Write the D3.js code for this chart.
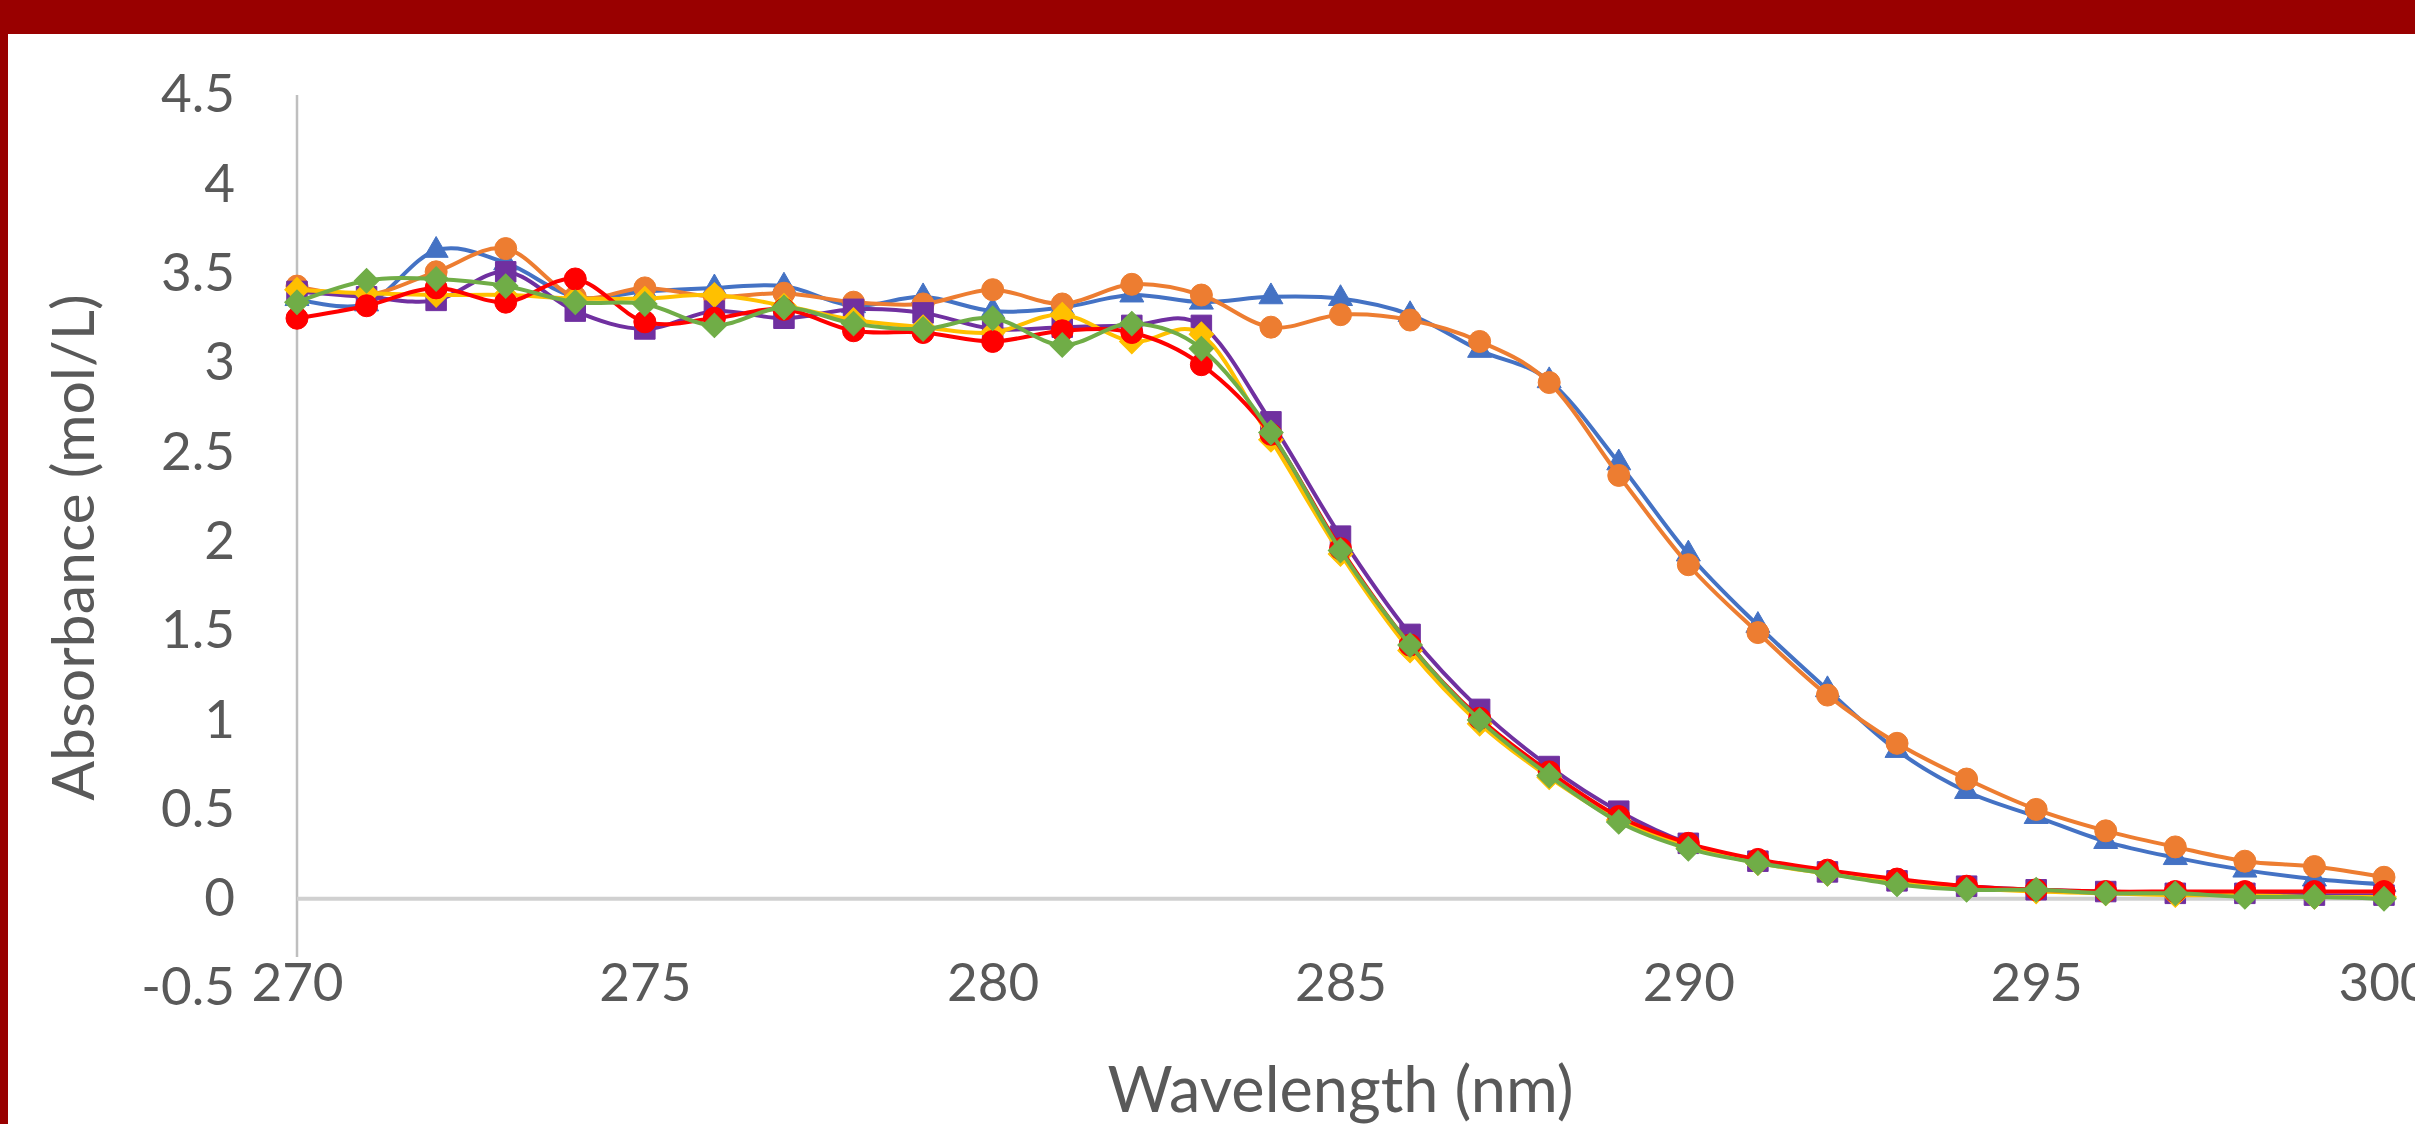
<!DOCTYPE html>
<html>
<head>
<meta charset="utf-8">
<script src="https://cdn.jsdelivr.net/npm/d3@7"></script>
<style>
  html, body { margin: 0; padding: 0; background: #990000; overflow: hidden; }
  svg { display: block; }
  text { font-family: Lato, "Open Sans", sans-serif; fill: #595959; }
</style>
</head>
<body>
<div id="chart"></div>
<script>
// wavelengths (nm) and absorbance readings for each sample
const wavelengths = [270, 271, 272, 273, 274, 275, 276, 277, 278, 279, 280, 281, 282, 283, 284, 285,
  286, 287, 288, 289, 290, 291, 292, 293, 294, 295, 296, 297, 298, 299, 300];
const blueSeries = [3.36, 3.33, 3.63, 3.56, 3.37, 3.40, 3.42, 3.43, 3.32, 3.37, 3.29, 3.31, 3.38, 3.34, 3.37, 3.36,
  3.27, 3.07, 2.90, 2.44, 1.93, 1.53, 1.17, 0.83, 0.60, 0.46, 0.32, 0.23, 0.16, 0.11, 0.08];
const orangeSeries = [3.43, 3.38, 3.51, 3.64, 3.37, 3.42, 3.37, 3.39, 3.34, 3.33, 3.41, 3.33, 3.44, 3.38, 3.20, 3.27,
  3.24, 3.12, 2.89, 2.37, 1.87, 1.49, 1.14, 0.87, 0.67, 0.50, 0.38, 0.29, 0.21, 0.18, 0.12];
const purpleSeries = [3.40, 3.37, 3.35, 3.51, 3.29, 3.19, 3.29, 3.25, 3.30, 3.28, 3.19, 3.20, 3.21, 3.21, 2.67, 2.03,
  1.48, 1.06, 0.74, 0.49, 0.31, 0.21, 0.15, 0.10, 0.07, 0.05, 0.04, 0.03, 0.03, 0.02, 0.02];
const yellowSeries = [3.41, 3.39, 3.38, 3.38, 3.36, 3.36, 3.38, 3.32, 3.24, 3.20, 3.17, 3.27, 3.12, 3.16, 2.57, 1.93,
  1.39, 0.98, 0.68, 0.44, 0.29, 0.20, 0.14, 0.09, 0.06, 0.04, 0.03, 0.02, 0.02, 0.01, 0.01];
const redSeries = [3.25, 3.32, 3.42, 3.34, 3.47, 3.23, 3.25, 3.30, 3.18, 3.17, 3.12, 3.18, 3.17, 2.99, 2.60, 1.96,
  1.42, 1.01, 0.71, 0.46, 0.31, 0.22, 0.16, 0.11, 0.07, 0.05, 0.04, 0.04, 0.04, 0.04, 0.04];
const greenSeries = [3.34, 3.46, 3.47, 3.43, 3.34, 3.33, 3.21, 3.31, 3.22, 3.19, 3.25, 3.10, 3.22, 3.08, 2.61, 1.95,
  1.42, 1.00, 0.69, 0.43, 0.28, 0.20, 0.14, 0.08, 0.05, 0.05, 0.03, 0.03, 0.01, 0.01, 0.00];

const xTicks = [270, 275, 280, 285, 290, 295, 300];
const yTicks = [-0.5, 0, 0.5, 1, 1.5, 2, 2.5, 3, 3.5, 4, 4.5];

const series = [
  { values: blueSeries,   color: "#4472C4", marker: "triangle" },
  { values: orangeSeries, color: "#ED7D31", marker: "circle" },
  { values: purpleSeries, color: "#7030A0", marker: "square" },
  { values: yellowSeries, color: "#FFC000", marker: "diamond" },
  { values: redSeries,    color: "#FF0000", marker: "circle" },
  { values: greenSeries,  color: "#70AD47", marker: "diamond" }
];

const width = 2415;
const height = 1124;

const x = d3.scaleLinear().domain([270, 300]).range([297, 2384]);
const y = d3.scaleLinear().domain([-0.5, 4.5]).range([988, 95]);

const svg = d3.select("#chart")
  .append("svg")
  .attr("width", width)
  .attr("height", height);

// white panel inside the dark red frame
svg.append("rect")
  .attr("x", 8)
  .attr("y", 34)
  .attr("width", width)
  .attr("height", height)
  .attr("fill", "#ffffff");

// y axis: labels only, the line is drawn separately
const yAxis = svg.append("g")
  .attr("transform", `translate(${x(270)},0)`)
  .call(d3.axisLeft(y).tickValues(yTicks).tickSize(0).tickPadding(62).tickFormat(d => String(d)));
yAxis.select(".domain").remove();
yAxis.selectAll("text")
  .attr("font-size", 53)
  .attr("fill", "#595959")
  .style("font-family", "Lato, 'Open Sans', sans-serif");

svg.append("line")
  .attr("x1", x(270)).attr("x2", x(270))
  .attr("y1", y(4.5)).attr("y2", y(-0.5) - 31)
  .attr("stroke", "#bfbfbf")
  .attr("stroke-width", 2.5);

// horizontal axis line sits at zero
svg.append("line")
  .attr("x1", x(270)).attr("x2", x(300))
  .attr("y1", y(0)).attr("y2", y(0))
  .attr("stroke", "#d0d0d0")
  .attr("stroke-width", 4);

// x labels sit at the bottom of the plot (the 300 label runs off the edge as in the source)
const xAxis = svg.append("g")
  .attr("transform", `translate(0,${y(-0.5)})`)
  .call(d3.axisBottom(x).tickValues(xTicks).tickSize(0).tickFormat(d => String(d)));
xAxis.select(".domain").remove();
xAxis.selectAll("text")
  .attr("y", -6)
  .attr("dy", "0.35em")
  .attr("font-size", 53)
  .attr("fill", "#595959")
  .style("font-family", "Lato, 'Open Sans', sans-serif");

// axis titles
svg.append("text")
  .attr("x", (x(270) + x(300)) / 2)
  .attr("y", 1112)
  .attr("text-anchor", "middle")
  .attr("font-size", 63)
  .text("Wavelength (nm)");

svg.append("text")
  .attr("transform", `translate(94,${(y(4.5) + y(-0.5)) / 2 + 6}) rotate(-90)`)
  .attr("text-anchor", "middle")
  .attr("font-size", 59)
  .text("Absorbance (mol/L)");

const line = d3.line()
  .x((d, i) => x(wavelengths[i]))
  .y(d => y(d))
  .curve(d3.curveCardinal.tension(0));

const symbols = {
  triangle: d3.symbol().type(d3.symbolTriangle).size(250),
  circle: d3.symbol().type(d3.symbolCircle).size(380),
  square: d3.symbol().type(d3.symbolSquare).size(420),
  diamond: d3.symbol().type(d3.symbolSquare).size(300)
};

series.forEach(s => {
  const g = svg.append("g");
  g.append("path")
    .attr("d", line(s.values))
    .attr("fill", "none")
    .attr("stroke", s.color)
    .attr("stroke-width", 4)
    .attr("stroke-linejoin", "round");

  g.selectAll("path.marker")
    .data(s.values)
    .enter()
    .append("path")
    .attr("class", "marker")
    .attr("d", symbols[s.marker]())
    .attr("transform", (d, i) => `translate(${x(wavelengths[i])},${y(d)})` + (s.marker === "diamond" ? " rotate(45)" : ""))
    .attr("fill", s.color)
    .attr("stroke", s.color)
    .attr("stroke-width", 1);
});
</script>
</body>
</html>
